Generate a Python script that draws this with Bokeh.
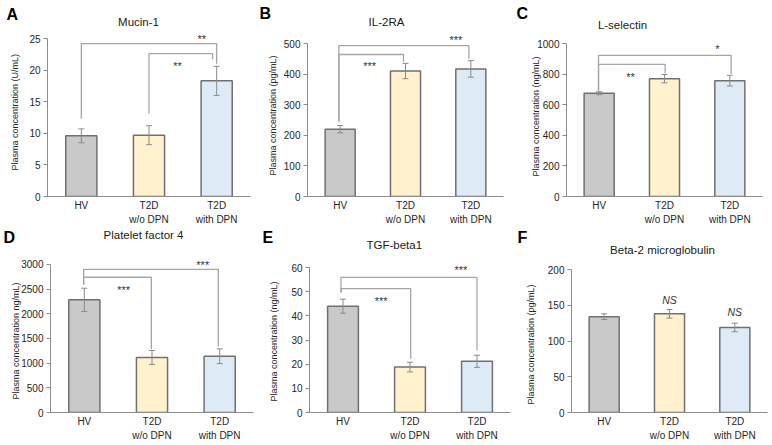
from bokeh.plotting import figure
from bokeh.models import ColumnDataSource, Whisker, TeeHead, FixedTicker, Range1d, Label, Title
from bokeh.layouts import row, column
from bokeh.embed import file_html
from bokeh.resources import INLINE
from bokeh.core.properties import value

# ---- data -------------------------------------------------------------
groups = ["HV", "T2D\nw/o DPN", "T2D\nwith DPN"]

mucin_mean = [9.6, 9.7, 18.3]
mucin_err = [1.1, 1.5, 2.3]

il2ra_mean = [220, 410, 417]
il2ra_err = [12, 25, 27]

lselectin_mean = [675, 770, 757]
lselectin_err = [10, 27, 35]

pf4_mean = [2280, 1115, 1140]
pf4_err = [235, 140, 150]

tgfb1_mean = [44.0, 18.8, 21.2]
tgfb1_err = [2.9, 2.0, 2.5]

b2m_mean = [134, 138, 119]
b2m_err = [4, 6, 6]

y_max = [25, 500, 1000, 3000, 60, 200]
y_step = [5, 100, 200, 500, 10, 50]

# ---- styles -----------------------------------------------------------
FONT = "Liberation Sans"
BAR_COLORS = ["#C9C9C9", "#FFF2CC", "#DEEBF7"]
BAR_LINE = "#707070"
ERR_COLOR = "#8A8A8A"
BRACKET_COLOR = "#A6A6A6"
AXIS_COLOR = "#8C8C8C"
TEXT_COLOR = "#262626"

# layout per panel:
#   size      figure width/height
#   border    left/right/bottom border around the plotting frame
#   ymax_px   vertical pixel of the top tick
#   letter_px (horizontal position, standoff) of the panel letter
#   ylab      (offset from frame bottom, standoff) of the rotated y title
panels = [
    dict(letter="A", title="Mucin-1", ylabel="Plasma concentration (U/mL)",
         mean=mucin_mean, err=mucin_err, ymax=y_max[0], step=y_step[0],
         size=(257, 228), border=(47, 7, 32), ymax_px=38,
         letter_px=(6, -44), ylab=(26, 13), title_px=(138, 21),
         brackets=[dict(x0=0.5, x1=2.5, y=24.2, y0=12.3, y1=21.0, lab="**", lx=2.28, ly=25.0),
                   dict(x0=1.5, x1=2.44, y=22.6, y0=13.1, y1=21.7, lab="**", lx=1.92, ly=20.6)],
         ns=[]),
    dict(letter="B", title="IL-2RA", ylabel="Plasma concentration (pg/mL)",
         mean=il2ra_mean, err=il2ra_err, ymax=y_max[1], step=y_step[1],
         size=(257, 228), border=(50, 11, 32), ymax_px=43,
         letter_px=(2, -42), ylab=(21, 6), title_px=(129, 21),
         brackets=[dict(x0=0.48, x1=2.47, y=493, y0=245, y1=450, lab="***", lx=2.27, ly=510),
                   dict(x0=0.48, x1=1.47, y=464, y0=245, y1=440, lab="***", lx=0.95, ly=425)],
         ns=[]),
    dict(letter="C", title="L-selectin", ylabel="Plasma concentration (ng/mL)",
         mean=lselectin_mean, err=lselectin_err, ymax=y_max[2], step=y_step[2],
         size=(258, 228), border=(52, 10, 32), ymax_px=43,
         letter_px=(2, -42), ylab=(20, -13), title_px=(108, 24),
         brackets=[dict(x0=0.49, x1=2.52, y=922, y0=693, y1=800, lab="*", lx=2.31, ly=967),
                   dict(x0=0.49, x1=1.51, y=863, y0=693, y1=805, lab="**", lx=0.98, ly=784)],
         ns=[]),
    dict(letter="D", title="Platelet factor 4", ylabel="Plasma concentration ng/mL)",
         mean=pf4_mean, err=pf4_err, ymax=y_max[3], step=y_step[3],
         size=(257, 217), border=(50, 4, 32), ymax_px=36,
         letter_px=(3, -35), ylab=(13, -4), title_px=(143, 7),
         brackets=[dict(x0=0.49, x1=2.48, y=2899, y0=2584, y1=1340, lab="***", lx=2.25, ly=2980),
                   dict(x0=0.49, x1=1.49, y=2738, y0=2584, y1=1280, lab="***", lx=1.08, ly=2476)],
         ns=[]),
    dict(letter="E", title="TGF-beta1", ylabel="Plasma concentration (ng/mL)",
         mean=tgfb1_mean, err=tgfb1_err, ymax=y_max[4], step=y_step[4],
         size=(257, 217), border=(49, 4, 33), ymax_px=39,
         letter_px=(2, -35), ylab=(11, 19), title_px=(135, 16),
         brackets=[dict(x0=0.47, x1=2.5, y=55.9, y0=49.7, y1=25.7, lab="***", lx=2.26, ly=58.8),
                   dict(x0=0.47, x1=1.51, y=51.3, y0=49.7, y1=22.2, lab="***", lx=1.07, ly=46.3)],
         ns=[]),
    dict(letter="F", title="Beta-2 microglobulin", ylabel="Plasma concentration (pg/mL)",
         mean=b2m_mean, err=b2m_err, ymax=y_max[5], step=y_step[5],
         size=(258, 217), border=(57, 5, 33), ymax_px=41,
         letter_px=(3, -35), ylab=(8, 17), title_px=(148, 21),
         brackets=[],
         ns=[dict(x=1.5, y=158), dict(x=2.5, y=140)]),
]


def make_panel(cfg):
    W, H = cfg["size"]
    bl, br, bb = cfg["border"]
    frame_bottom = H - bb
    scale = (frame_bottom - cfg["ymax_px"]) / cfg["ymax"]      # px per data unit
    xunit = (W - bl - br) / 3.0

    def dx(px):
        return (px - bl) / xunit

    def dy(py):
        return (frame_bottom - py) / scale

    p = figure(width=W, height=H, x_range=Range1d(0, 3),
               y_range=Range1d(0, frame_bottom / scale),
               output_backend="svg", toolbar_location=None, title=None,
               min_border=0, min_border_left=bl, min_border_right=br,
               min_border_top=0, min_border_bottom=bb)
    p.outline_line_color = None
    p.xgrid.visible = False
    p.ygrid.visible = False
    p.background_fill_color = "white"
    p.border_fill_color = "white"

    xs = [i + 0.5 for i in range(len(groups))]
    src = ColumnDataSource(dict(
        x=xs, top=cfg["mean"],
        upper=[m + e for m, e in zip(cfg["mean"], cfg["err"])],
        lower=[m - e for m, e in zip(cfg["mean"], cfg["err"])],
        color=BAR_COLORS))

    p.vbar(x="x", top="top", width=0.46, fill_color="color",
           line_color=BAR_LINE, line_width=1.5, source=src)

    wh = Whisker(base="x", upper="upper", lower="lower", source=src,
                 line_color=ERR_COLOR, line_width=1,
                 upper_head=TeeHead(size=6, line_color=ERR_COLOR, line_width=1),
                 lower_head=TeeHead(size=6, line_color=ERR_COLOR, line_width=1),
                 level="annotation")
    p.add_layout(wh)

    # significance brackets
    if cfg["brackets"]:
        bx = [[b["x0"], b["x0"], b["x1"], b["x1"]] for b in cfg["brackets"]]
        by = [[b["y0"], b["y"], b["y"], b["y1"]] for b in cfg["brackets"]]
        p.multi_line(bx, by, line_color=BRACKET_COLOR, line_width=1.3)
        p.text(x=[b["lx"] for b in cfg["brackets"]], y=[b["ly"] for b in cfg["brackets"]],
               text=[b["lab"] for b in cfg["brackets"]],
               text_align="center", text_baseline="middle",
               text_font=value(FONT), text_font_size="11px", text_color="#333333")
    if cfg["ns"]:
        p.text(x=[n["x"] for n in cfg["ns"]], y=[n["y"] for n in cfg["ns"]],
               text=["NS"] * len(cfg["ns"]),
               text_align="center", text_baseline="middle",
               text_font=value(FONT), text_font_size="10.5px",
               text_font_style="italic", text_color="#333333")

    # axes
    xa = p.xaxis[0]
    xa.ticker = FixedTicker(ticks=xs)
    xa.major_label_overrides = {x: g for x, g in zip(xs, groups)}
    xa.major_tick_line_color = None
    xa.minor_tick_line_color = None
    xa.major_tick_out = 0
    xa.major_tick_in = 0
    xa.minor_tick_out = 0
    xa.axis_line_color = AXIS_COLOR
    xa.major_label_text_font = FONT
    xa.major_label_text_font_size = "10px"
    xa.major_label_text_color = TEXT_COLOR
    xa.major_label_text_line_height = 1.3
    xa.major_label_standoff = 3

    ya = p.yaxis[0]
    ya.ticker = FixedTicker(ticks=list(range(0, cfg["ymax"] + cfg["step"], cfg["step"])))
    ya.bounds = (0, cfg["ymax"])
    ya.axis_line_color = AXIS_COLOR
    ya.major_tick_line_color = AXIS_COLOR
    ya.major_tick_out = 4
    ya.major_tick_in = 0
    ya.minor_tick_line_color = None
    ya.minor_tick_out = 0
    ya.major_label_text_font = FONT
    ya.major_label_text_font_size = "10px"
    ya.major_label_text_color = TEXT_COLOR
    ya.major_label_standoff = 3

    # rotated y title, centred on the tick span rather than the whole frame
    yoff, ystand = cfg["ylab"]
    p.add_layout(Title(text=cfg["ylabel"], align="left", offset=yoff,
                       standoff=ystand, vertical_align="bottom",
                       text_font=FONT, text_font_size="9px", text_font_style="normal",
                       text_color=TEXT_COLOR), "left")

    # panel letter: a title in the top panel, pulled down over the border
    lx, standoff = cfg["letter_px"]
    p.add_layout(Title(text=cfg["letter"], align="left", offset=lx - bl,
                       standoff=standoff, vertical_align="bottom",
                       text_font=FONT, text_font_size="16px", text_font_style="bold",
                       text_color="black"), "above")
    tx, ty = cfg["title_px"]
    p.add_layout(Label(x=dx(tx), y=dy(ty), text=cfg["title"], text_font=FONT,
                       text_font_size="11.5px", text_color="#1a1a1a",
                       text_align="center", text_baseline="middle"))
    return p


figs = [make_panel(c) for c in panels]
layout = column(row(*figs[:3], spacing=0), row(*figs[3:], spacing=0), spacing=0)

open("out.html", "w").write(file_html(layout, INLINE))
